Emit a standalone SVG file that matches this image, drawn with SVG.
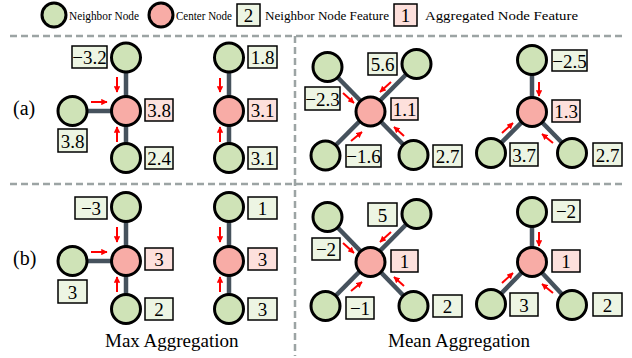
<svg xmlns="http://www.w3.org/2000/svg" width="632" height="358" viewBox="0 0 632 358">
<style>
.nb{fill:#cfe3b7;stroke:#000;stroke-width:3}
.ct{fill:#f8aca6;stroke:#000;stroke-width:3}
.bn{fill:#edf5e3;stroke:#000;stroke-width:1.5}
.bp{fill:#fde0dc;stroke:#000;stroke-width:1.5}
text{font-family:'Liberation Serif','Times New Roman','DejaVu Serif',serif;fill:#000}
.bt{font-size:19px;text-anchor:middle}
.lg{font-size:13px}
.edge{stroke:#46525d;stroke-width:4.5;fill:none}
.arr{stroke:#ff0000;stroke-width:2;fill:none;marker-end:url(#ah)}
.dash{stroke:#9ca4a4;stroke-width:2.5;stroke-dasharray:7 4;fill:none}
</style>
<defs>
<marker id="ah" viewBox="0 0 10 10" refX="9" refY="5" markerWidth="3.2" markerHeight="3.2" orient="auto" markerUnits="strokeWidth">
<path d="M0,0 L10,5 L0,10 z" fill="#ff0000"/>
</marker>
</defs>
<rect width="632" height="358" fill="#fff"/>

<g id="legend" font-family="Liberation Serif, Times New Roman, serif">
<circle class="nb" cx="54" cy="15" r="12"/>
<text class="lg" x="69" y="19.5" textLength="70" lengthAdjust="spacingAndGlyphs">Neighbor Node</text>
<circle class="ct" cx="161" cy="15" r="12"/>
<text class="lg" x="176" y="19.5" textLength="56" lengthAdjust="spacingAndGlyphs">Center Node</text>
<rect class="bn" x="237" y="4" width="23" height="22"/>
<text class="bt" x="248.5" y="22">2</text>
<text class="lg" x="265" y="19.5" textLength="124" lengthAdjust="spacingAndGlyphs">Neighbor Node Feature</text>
<rect class="bp" x="394" y="4" width="23" height="22"/>
<text class="bt" x="405.5" y="22">1</text>
<text class="lg" x="425" y="19.5" textLength="153" lengthAdjust="spacingAndGlyphs">Aggregated Node Feature</text>
</g>

<g id="dividers">
<line class="dash" x1="10" y1="36" x2="626" y2="36"/>
<line class="dash" x1="10" y1="184" x2="626" y2="184"/>
<line class="dash" x1="295" y1="36" x2="295" y2="356"/>
</g>

<g id="labels" font-family="Liberation Serif, Times New Roman, serif">
<text x="13" y="115" font-size="20">(a)</text>
<text x="13" y="265" font-size="20">(b)</text>
<text x="105" y="347" font-size="19">Max Aggregation</text>
<text x="388" y="347" font-size="19">Mean Aggregation</text>
</g>

<g id="connectors">
<line class="edge" x1="126" y1="57.5" x2="126" y2="158"/>
<line class="edge" x1="72.5" y1="111" x2="126" y2="111"/>
<line class="edge" x1="229" y1="57.5" x2="229" y2="158"/>
<line class="edge" x1="327.5" y1="67" x2="413.5" y2="155"/>
<line class="edge" x1="416.5" y1="64" x2="325.5" y2="155.5"/>
<line class="edge" x1="532" y1="60" x2="532" y2="112"/>
<line class="edge" x1="491" y1="153" x2="532" y2="112"/>
<line class="edge" x1="572" y1="153" x2="532" y2="112"/>
<line class="edge" x1="126" y1="207" x2="126" y2="309"/>
<line class="edge" x1="72.5" y1="261" x2="126" y2="261"/>
<line class="edge" x1="229" y1="207" x2="229" y2="309"/>
<line class="edge" x1="327.5" y1="217" x2="413.5" y2="306"/>
<line class="edge" x1="416.5" y1="214" x2="325.5" y2="306"/>
<line class="edge" x1="532" y1="212" x2="532" y2="262"/>
<line class="edge" x1="491" y1="304" x2="532" y2="262"/>
<line class="edge" x1="572" y1="305" x2="532" y2="262"/>

<line class="arr" x1="117" y1="77" x2="117" y2="92"/>
<line class="arr" x1="91" y1="102" x2="107" y2="102"/>
<line class="arr" x1="117" y1="142" x2="117" y2="127"/>
<line class="arr" x1="220" y1="78" x2="220" y2="92"/>
<line class="arr" x1="220" y1="142" x2="220" y2="127"/>
<line class="arr" x1="343" y1="93" x2="354" y2="103"/>
<line class="arr" x1="391" y1="82" x2="380" y2="92"/>
<line class="arr" x1="351" y1="141" x2="362" y2="132"/>
<line class="arr" x1="404" y1="136" x2="394" y2="127"/>
<line class="arr" x1="539" y1="82" x2="539" y2="96"/>
<line class="arr" x1="502" y1="133" x2="513" y2="123"/>
<line class="arr" x1="553" y1="143" x2="542" y2="134"/>

<line class="arr" x1="117" y1="227" x2="117" y2="242"/>
<line class="arr" x1="91" y1="252" x2="107" y2="252"/>
<line class="arr" x1="117" y1="292" x2="117" y2="277"/>
<line class="arr" x1="220" y1="227" x2="220" y2="242"/>
<line class="arr" x1="220" y1="292" x2="220" y2="277"/>
<line class="arr" x1="343" y1="243" x2="354" y2="253"/>
<line class="arr" x1="391" y1="232" x2="380" y2="242"/>
<line class="arr" x1="351" y1="291" x2="362" y2="282"/>
<line class="arr" x1="404" y1="286" x2="394" y2="277"/>
<line class="arr" x1="539" y1="232" x2="539" y2="246"/>
<line class="arr" x1="502" y1="283" x2="513" y2="273"/>
<line class="arr" x1="553" y1="293" x2="542" y2="284"/>
</g>

<g id="nodes" font-family="Liberation Serif, Times New Roman, serif">
<g id="a1-top"><circle class="nb" cx="126" cy="57.5" r="14.5"/><rect class="bn" x="72" y="46" width="35" height="22"/><text class="bt" x="89.5" y="64">−3.2</text></g>
<g id="a1-center"><circle class="ct" cx="126" cy="111" r="14.5"/><rect class="bp" x="145" y="99" width="28" height="22"/><text class="bt" x="159" y="117">3.8</text></g>
<g id="a1-left"><circle class="nb" cx="72.5" cy="111" r="14.5"/><rect class="bn" x="58" y="129" width="29" height="23"/><text class="bt" x="72.5" y="147.5">3.8</text></g>
<g id="a1-bottom"><circle class="nb" cx="126" cy="158" r="14.5"/><rect class="bn" x="145" y="147" width="28" height="22"/><text class="bt" x="159" y="165">2.4</text></g>

<g id="a2-top"><circle class="nb" cx="229" cy="57.5" r="14.5"/><rect class="bn" x="248" y="46" width="29" height="22"/><text class="bt" x="262.5" y="64">1.8</text></g>
<g id="a2-center"><circle class="ct" cx="229" cy="111" r="14.5"/><rect class="bp" x="248" y="99" width="29" height="22"/><text class="bt" x="262.5" y="117">3.1</text></g>
<g id="a2-bottom"><circle class="nb" cx="229" cy="158" r="14.5"/><rect class="bn" x="248" y="147" width="29" height="22"/><text class="bt" x="262.5" y="165">3.1</text></g>

<g id="a3-center"><circle class="ct" cx="370.5" cy="111.5" r="14.5"/><rect class="bp" x="391" y="98" width="27" height="22"/><text class="bt" x="404.5" y="116">1.1</text></g>
<g id="a3-tl"><circle class="nb" cx="327.5" cy="67" r="14.5"/><rect class="bn" x="305" y="87" width="35" height="23"/><text class="bt" x="322.5" y="105.5">−2.3</text></g>
<g id="a3-tr"><circle class="nb" cx="416.5" cy="64" r="14.5"/><rect class="bn" x="368" y="53" width="29" height="22"/><text class="bt" x="382.5" y="71">5.6</text></g>
<g id="a3-bl"><circle class="nb" cx="325.5" cy="155.5" r="14.5"/><rect class="bn" x="346" y="145" width="35" height="22"/><text class="bt" x="363.5" y="163">−1.6</text></g>
<g id="a3-br"><circle class="nb" cx="413.5" cy="155" r="14.5"/><rect class="bn" x="433" y="145" width="29" height="22"/><text class="bt" x="447.5" y="163">2.7</text></g>

<g id="a4-center"><circle class="ct" cx="532" cy="112" r="14.5"/><rect class="bp" x="552" y="100" width="28" height="22"/><text class="bt" x="566" y="118">1.3</text></g>
<g id="a4-top"><circle class="nb" cx="532" cy="60" r="14.5"/><rect class="bn" x="552" y="50" width="35" height="21"/><text class="bt" x="569.5" y="67.5">−2.5</text></g>
<g id="a4-bl"><circle class="nb" cx="491" cy="153" r="14.5"/><rect class="bn" x="510" y="143" width="28" height="23"/><text class="bt" x="524" y="161.5">3.7</text></g>
<g id="a4-br"><circle class="nb" cx="572" cy="153" r="14.5"/><rect class="bn" x="593" y="143" width="29" height="23"/><text class="bt" x="607.5" y="161.5">2.7</text></g>

<g id="b1-top"><circle class="nb" cx="126" cy="207" r="14.5"/><rect class="bn" x="75" y="197" width="32" height="22"/><text class="bt" x="91" y="215">−3</text></g>
<g id="b1-center"><circle class="ct" cx="126" cy="261" r="14.5"/><rect class="bp" x="145" y="248" width="28" height="22"/><text class="bt" x="159" y="266">3</text></g>
<g id="b1-left"><circle class="nb" cx="72.5" cy="261" r="14.5"/><rect class="bn" x="58" y="280" width="29" height="23"/><text class="bt" x="72.5" y="298.5">3</text></g>
<g id="b1-bottom"><circle class="nb" cx="126" cy="309" r="14.5"/><rect class="bn" x="145" y="298" width="28" height="22"/><text class="bt" x="159" y="316">2</text></g>

<g id="b2-top"><circle class="nb" cx="229" cy="207" r="14.5"/><rect class="bn" x="248" y="197" width="29" height="22"/><text class="bt" x="262.5" y="215">1</text></g>
<g id="b2-center"><circle class="ct" cx="229" cy="261" r="14.5"/><rect class="bp" x="248" y="248" width="29" height="22"/><text class="bt" x="262.5" y="266">3</text></g>
<g id="b2-bottom"><circle class="nb" cx="229" cy="309" r="14.5"/><rect class="bn" x="248" y="298" width="29" height="22"/><text class="bt" x="262.5" y="316">3</text></g>

<g id="b3-center"><circle class="ct" cx="370.5" cy="262" r="14.5"/><rect class="bp" x="391" y="250" width="27" height="22"/><text class="bt" x="404.5" y="268">1</text></g>
<g id="b3-tl"><circle class="nb" cx="327.5" cy="217" r="14.5"/><rect class="bn" x="312" y="238" width="28" height="22"/><text class="bt" x="326" y="256">−2</text></g>
<g id="b3-tr"><circle class="nb" cx="416.5" cy="214" r="14.5"/><rect class="bn" x="368" y="203" width="29" height="23"/><text class="bt" x="382.5" y="221.5">5</text></g>
<g id="b3-bl"><circle class="nb" cx="325.5" cy="306" r="14.5"/><rect class="bn" x="346" y="297" width="28" height="22"/><text class="bt" x="360" y="315">−1</text></g>
<g id="b3-br"><circle class="nb" cx="413.5" cy="306" r="14.5"/><rect class="bn" x="433" y="295" width="29" height="22"/><text class="bt" x="447.5" y="313">2</text></g>

<g id="b4-center"><circle class="ct" cx="532" cy="262" r="14.5"/><rect class="bp" x="552" y="250" width="28" height="22"/><text class="bt" x="566" y="268">1</text></g>
<g id="b4-top"><circle class="nb" cx="532" cy="212" r="14.5"/><rect class="bn" x="552" y="200" width="28" height="22"/><text class="bt" x="566" y="218">−2</text></g>
<g id="b4-bl"><circle class="nb" cx="491" cy="304" r="14.5"/><rect class="bn" x="510" y="293" width="28" height="23"/><text class="bt" x="524" y="311.5">3</text></g>
<g id="b4-br"><circle class="nb" cx="572" cy="305" r="14.5"/><rect class="bn" x="593" y="293" width="29" height="23"/><text class="bt" x="607.5" y="311.5">2</text></g>
</g>
</svg>
